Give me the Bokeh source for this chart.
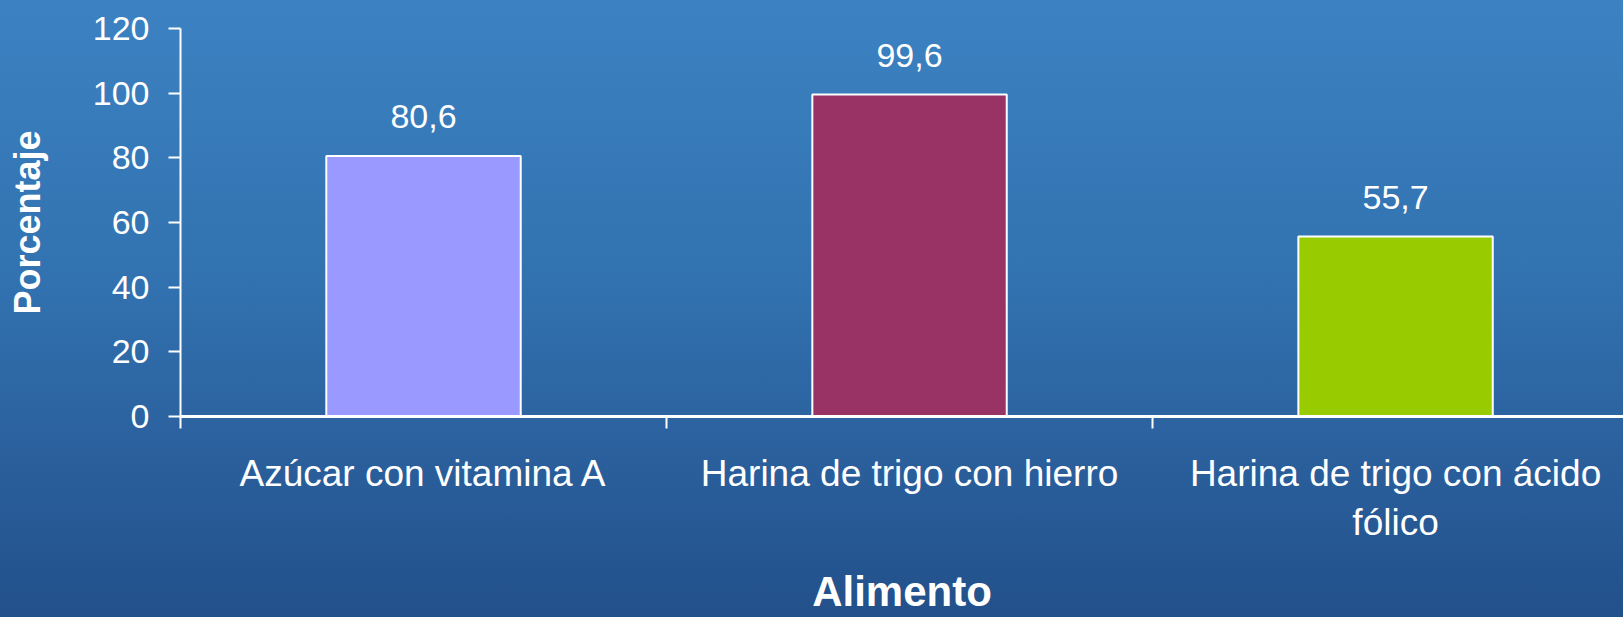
from bokeh.plotting import figure
from bokeh.models import Range1d, LinearAxis, FixedTicker, ColumnDataSource
from bokeh.core.properties import value
from bokeh.embed import file_html
from bokeh.resources import INLINE

categories = ["Azúcar con vitamina A", "Harina de trigo con hierro", "Harina de trigo con ácido\nfólico"]
values = [80.6, 99.6, 55.7]
colors = ["#9999FF", "#993366", "#99CC00"]
y_ticks = [0, 20, 40, 60, 80, 100, 120]
y_title = "Porcentaje"
x_title = "Alimento"

FONT = "Liberation Sans"

centers = [i + 0.5 for i in range(len(categories))]
boundaries = list(range(len(categories) + 1))
labels = [f"{v:.1f}".replace(".", ",") for v in values]
src = ColumnDataSource(dict(x=centers, top=values, color=colors, label=labels))

p = figure(width=1623, height=617, output_backend="svg", toolbar_location=None,
           x_range=Range1d(0, 2.969), y_range=Range1d(0, 120),
           x_axis_type=None, y_axis_type=None,
           min_border_left=180, min_border_right=0, min_border_top=28, min_border_bottom=201)
p.background_fill_color = None
p.border_fill_color = None
p.outline_line_color = None
p.xgrid.visible = False
p.ygrid.visible = False

p.vbar(x="x", top="top", width=0.4, bottom=0, fill_color="color", line_color="white",
       line_width=2, source=src)
p.text(x="x", y="top", text="label", source=src, text_color="white",
       text_font=value(FONT), text_font_size="34px", text_align="center",
       text_baseline="middle", y_offset=-39)

# y axis
ya = LinearAxis(ticker=FixedTicker(ticks=y_ticks))
ya.axis_label = y_title
ya.axis_label_text_font = FONT
ya.axis_label_text_font_style = "bold"
ya.axis_label_text_font_size = "36px"
ya.axis_label_text_color = "white"
ya.axis_label_standoff = 42
ya.major_label_text_font = FONT
ya.major_label_text_font_size = "34px"
ya.major_label_text_color = "white"
ya.major_label_standoff = 19
ya.axis_line_color = "white"
ya.axis_line_width = 2
ya.major_tick_line_color = "white"
ya.major_tick_line_width = 2
ya.major_tick_out = 12
ya.major_tick_in = 0
ya.minor_tick_line_color = None
p.add_layout(ya, "left")

# x axis: line and boundary ticks
xa1 = LinearAxis(ticker=FixedTicker(ticks=boundaries))
xa1.major_label_overrides = {b: "" for b in boundaries}
xa1.major_label_text_font_size = "1px"
xa1.major_label_standoff = 0
xa1.axis_line_color = "white"
xa1.axis_line_width = 3
xa1.major_tick_line_color = "white"
xa1.major_tick_line_width = 2
xa1.major_tick_out = 12
xa1.major_tick_in = 0
xa1.minor_tick_line_color = None
p.add_layout(xa1, "below")

# x axis: category labels
xa2 = LinearAxis(ticker=FixedTicker(ticks=centers))
xa2.major_label_overrides = {c: lab for c, lab in zip(centers, categories)}
xa2.major_label_text_font = FONT
xa2.major_label_text_font_size = "37px"
xa2.major_label_text_color = "white"
xa2.major_label_standoff = 18
xa2.axis_line_color = None
xa2.major_tick_line_color = None
xa2.minor_tick_line_color = None
xa2.axis_label = x_title
xa2.axis_label_text_font = FONT
xa2.axis_label_text_font_style = "bold"
xa2.axis_label_text_font_size = "42px"
xa2.axis_label_text_color = "white"
xa2.axis_label_standoff = 22
p.add_layout(xa2, "below")

html = file_html(p, INLINE)
css = ("<style>html,body{background:linear-gradient(to bottom,#3C82C2 0%,#3272B0 45%,#2A5F9C 75%,#22508A 100%);"
       "min-height:100%;}</style>")
html = html.replace("</head>", css + "</head>", 1)
open("out.html", "w").write(html)
